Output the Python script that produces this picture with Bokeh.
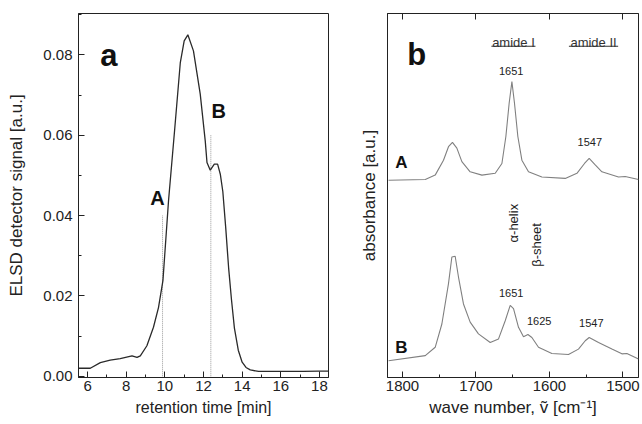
import math
from bokeh.plotting import figure
from bokeh.layouts import row
from bokeh.models import (Range1d, SingleIntervalTicker, LinearAxis, NumeralTickFormatter,
                          FixedTicker, Label)
from bokeh.embed import file_html
from bokeh.resources import INLINE

FONT = "Liberation Sans"

# ---------------- panel a : ELSD chromatogram ----------------
rt_min = [5.53, 6.14, 6.66, 7.17, 7.69, 8.30, 8.56, 8.73, 9.07, 9.41, 9.67, 9.90, 10.19,
          10.50, 10.80, 11.00, 11.19, 11.48, 11.83, 12.09, 12.18, 12.35, 12.56, 12.73,
          12.87, 13.00, 13.15, 13.30, 13.45, 13.60, 13.80, 14.00, 14.20, 14.42, 14.85,
          17.17, 17.95, 18.47]
elsd_signal = [0.0020, 0.0020, 0.0034, 0.0040, 0.0044, 0.0051, 0.0047, 0.0051, 0.0076,
               0.0122, 0.0171, 0.0238, 0.0437, 0.0610, 0.0781, 0.0835, 0.0850, 0.0810,
               0.0703, 0.0586, 0.0532, 0.0513, 0.0528, 0.0528, 0.0503, 0.0460, 0.0370,
               0.0270, 0.0190, 0.0120, 0.0065, 0.0035, 0.0022, 0.0016, 0.0012, 0.0012,
               0.0013, 0.0013]
fraction_names = ["A", "B"]
fraction_rt = [9.88, 12.38]
fraction_marker_top = [0.040, 0.060]

# ---------------- panel b : FTIR spectra ----------------
wn_A = [1819, 1769, 1755.5, 1744.2, 1737.4, 1732, 1726, 1719.2, 1707.9, 1691.9, 1673.8,
        1664.7, 1659.3, 1654.8, 1651.1, 1647.6, 1643, 1637.5, 1628.5, 1610.3, 1578.5,
        1562.6, 1552.3, 1545.9, 1537.7, 1528.6, 1506, 1496.9, 1478.8]
abs_A = [0.542, 0.544, 0.556, 0.597, 0.634, 0.646, 0.630, 0.593, 0.565, 0.556, 0.561,
         0.588, 0.662, 0.754, 0.813, 0.754, 0.662, 0.597, 0.565, 0.551, 0.547, 0.561,
         0.588, 0.602, 0.584, 0.565, 0.551, 0.552, 0.544]
wn_B = [1819, 1769, 1755.5, 1746.4, 1737.4, 1732.8, 1728.3, 1723.8, 1717, 1707.9, 1696.6,
        1680.6, 1669.3, 1660.2, 1653.4, 1648.9, 1642.1, 1635.3, 1629.3, 1623.9, 1614.9,
        1596.7, 1574.1, 1560.5, 1551.3, 1545.9, 1533.2, 1515, 1501.4, 1494.6, 1478.8]
abs_B = [0.046, 0.060, 0.083, 0.147, 0.258, 0.331, 0.333, 0.276, 0.202, 0.152, 0.120,
         0.096, 0.106, 0.156, 0.198, 0.189, 0.138, 0.112, 0.118, 0.110, 0.083, 0.066,
         0.063, 0.078, 0.101, 0.110, 0.096, 0.078, 0.065, 0.066, 0.051]

band_labels = ["1651", "1547", "1651", "1625", "1547"]
band_x = [1652, 1545, 1652, 1614, 1543]
band_y = [0.843, 0.648, 0.233, 0.156, 0.150]
region_labels = ["amide I", "amide II"]
region_x = [1649, 1540]
region_y = [0.921, 0.921]
region_halfwidth = [30, 33.5]
struct_labels = ["\u03b1-helix", "\u03b2-sheet"]
struct_x = [1649, 1617]
struct_y = [0.424, 0.364]
spectrum_names = ["A", "B"]
spectrum_name_y = [0.592, 0.082]


def style_axis(ax, label_size="15px"):
    ax.major_label_text_font = FONT
    ax.major_label_text_font_size = label_size
    ax.major_label_text_color = "#222222"
    ax.axis_label_text_font = FONT
    ax.axis_label_text_font_style = "normal"
    ax.axis_label_text_color = "#222222"
    ax.axis_line_color = "#222222"
    ax.major_tick_line_color = "#222222"
    ax.minor_tick_line_color = "#222222"
    ax.major_tick_in = 6
    ax.major_tick_out = 0
    ax.minor_tick_in = 3
    ax.minor_tick_out = 0


# ---- figure a ----
p1 = figure(width=345, height=424, x_range=Range1d(5.53, 18.47),
            y_range=Range1d(-0.0003, 0.0903), output_backend="svg",
            toolbar_location=None, min_border_left=78, min_border_right=17,
            min_border_top=13, min_border_bottom=47)
p1.grid.visible = False
p1.outline_line_color = "#222222"
p1.xaxis.ticker = SingleIntervalTicker(interval=2, num_minor_ticks=2)
p1.yaxis.ticker = SingleIntervalTicker(interval=0.02, num_minor_ticks=2)
p1.yaxis.formatter = NumeralTickFormatter(format="0.00")
style_axis(p1.xaxis[0])
style_axis(p1.yaxis[0])
p1.xaxis.axis_label = "retention time [min]"
p1.yaxis.axis_label = "ELSD detector signal [a.u.]"
p1.xaxis.axis_label_text_font_size = "16px"
p1.yaxis.axis_label_text_font_size = "17px"
p1.xaxis.major_label_standoff = 3
p1.xaxis.axis_label_standoff = 5
p1.yaxis.major_label_standoff = 6
p1.yaxis.axis_label_standoff = 14

p1.segment(x0=fraction_rt, y0=[0, 0], x1=fraction_rt, y1=fraction_marker_top,
           line_color="#9a9a9a", line_dash="1 1", line_width=1)
p1.line(rt_min, elsd_signal, line_color="#2a2a2a", line_width=1.3)

p1.add_layout(Label(x=6.66, y=0.0799, text="a", text_font=FONT, text_font_size="31px",
                    text_font_style="bold", text_color="#111111",
                    text_baseline="alphabetic", text_align="left"))
for name, xr, yt in zip(fraction_names, fraction_rt, fraction_marker_top):
    p1.add_layout(Label(x=xr, y=yt, text=name, text_font=FONT, text_font_size="20px",
                        text_font_style="bold", text_color="#111111",
                        text_align="center", text_baseline="alphabetic",
                        x_offset=-5 if name == "A" else 8,
                        y_offset=18 if name == "A" else 24))

# ---- figure b ----
p2 = figure(width=297, height=424, x_range=Range1d(1820.4, 1478.8),
            y_range=Range1d(0, 1), output_backend="svg", toolbar_location=None,
            min_border_left=42, min_border_right=4, min_border_top=13,
            min_border_bottom=47)
p2.grid.visible = False
p2.outline_line_color = "#222222"
p2.xaxis.ticker = SingleIntervalTicker(interval=100, num_minor_ticks=2)
style_axis(p2.xaxis[0])
p2.xaxis.axis_label = "wave number, \u1e7d [cm\u207b\u00b9]"
p2.xaxis.axis_label_text_font_size = "17px"
p2.xaxis.major_label_standoff = 3
p2.xaxis.axis_label_standoff = 4
p2.yaxis.ticker = FixedTicker(ticks=[])
style_axis(p2.yaxis[0])
p2.yaxis.axis_label = "absorbance [a.u.]"
p2.yaxis.axis_label_text_font_size = "17px"
p2.yaxis.axis_label_standoff = 9

top_axis = LinearAxis(ticker=SingleIntervalTicker(interval=100, num_minor_ticks=2))
style_axis(top_axis)
top_axis.minor_tick_in = 0
top_axis.major_label_text_font_size = "2px"
top_axis.major_label_text_color = None
top_axis.major_label_standoff = 0
p2.add_layout(top_axis, "above")

p2.line(wn_A, abs_A, line_color="#808080", line_width=1.1)
p2.line(wn_B, abs_B, line_color="#808080", line_width=1.1)

p2.add_layout(Label(x=1793.6, y=0.887, text="b", text_font=FONT, text_font_size="31px",
                    text_font_style="bold", text_color="#111111",
                    text_baseline="alphabetic", text_align="left"))
for t, x, y in zip(band_labels, band_x, band_y):
    p2.add_layout(Label(x=x, y=y, text=t, text_font=FONT, text_font_size="11px",
                        text_color="#222222", text_align="center",
                        text_baseline="alphabetic"))
for t, x, y in zip(region_labels, region_x, region_y):
    p2.add_layout(Label(x=x, y=y, text=t, text_font=FONT, text_font_size="13px",
                        text_color="#333333", text_align="center",
                        text_baseline="alphabetic"))
p2.segment(x0=[x + h for x, h in zip(region_x, region_halfwidth)],
           y0=[y - 0.011 for y in region_y],
           x1=[x - h for x, h in zip(region_x, region_halfwidth)],
           y1=[y - 0.011 for y in region_y], line_color="#333333", line_width=1)
for t, x, y in zip(struct_labels, struct_x, struct_y):
    p2.add_layout(Label(x=x, y=y, text=t, text_font=FONT, text_font_size="13px",
                        text_color="#222222", text_align="center",
                        text_baseline="middle", angle=math.pi / 2))
for t, y in zip(spectrum_names, spectrum_name_y):
    p2.add_layout(Label(x=1810, y=y, text=t, text_font=FONT, text_font_size="17px",
                        text_font_style="bold", text_color="#111111",
                        text_align="left", text_baseline="alphabetic"))

layout = row(p1, p2)
open("out.html", "w").write(file_html(layout, INLINE))
